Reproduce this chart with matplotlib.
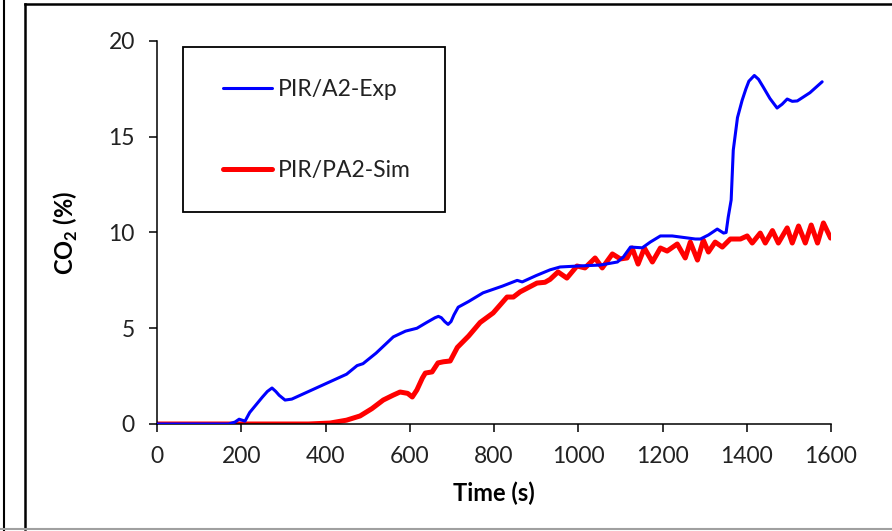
import matplotlib
matplotlib.use('Agg')
import matplotlib.pyplot as plt
from matplotlib.lines import Line2D
from matplotlib.patches import Rectangle

plt.rcParams['font.family'] = ['Lato', 'DejaVu Sans']
plt.rcParams['mathtext.fontset'] = 'custom'
plt.rcParams['mathtext.rm'] = 'Lato'
plt.rcParams['mathtext.bf'] = 'Lato:bold'

# Experimental curve PIR/A2-Exp
t_exp = [0, 170, 185, 195, 209, 220, 235, 250, 262, 273, 282, 290, 304, 320,
         350, 400, 450, 475, 489, 520, 561, 590, 617, 640, 660, 668, 675,
         683, 691, 698, 705, 715, 740, 774, 820, 855, 867, 900, 933, 957,
         1000, 1052, 1093, 1107, 1124, 1152, 1171, 1195, 1223, 1278, 1290,
         1309, 1330, 1345, 1351, 1356, 1363, 1368, 1378, 1389, 1398, 1405,
         1418, 1428, 1439, 1455, 1472, 1484, 1496, 1508, 1520, 1550, 1579]
co2_exp = [0, 0, 0.1, 0.25, 0.15, 0.6, 1.0, 1.4, 1.7, 1.88, 1.7, 1.5, 1.25,
           1.3, 1.6, 2.1, 2.6, 3.05, 3.15, 3.7, 4.55, 4.85, 5.0, 5.3, 5.55,
           5.62, 5.55, 5.35, 5.2, 5.35, 5.7, 6.1, 6.4, 6.85, 7.2, 7.5, 7.42,
           7.75, 8.05, 8.2, 8.25, 8.3, 8.46, 8.72, 9.24, 9.2, 9.5, 9.82, 9.82,
           9.66, 9.66, 9.87, 10.18, 9.97, 10.0, 10.8, 11.7, 14.3, 16.0, 16.9,
           17.5, 17.9, 18.2, 18.0, 17.6, 17.0, 16.5, 16.7, 16.97, 16.85, 16.87,
           17.3, 17.87]

# Simulated curve PIR/PA2-Sim
t_sim = [0, 360, 411, 450, 482, 510, 537, 560, 577, 595, 606, 617, 630, 637,
         653, 667, 680, 696, 713, 740, 767, 798, 831, 846, 862, 902, 921, 933,
         952, 973, 997, 1016, 1040, 1057, 1081, 1100, 1116, 1128, 1142, 1157,
         1176, 1195, 1211, 1235, 1254, 1266, 1283, 1297, 1309, 1325, 1342,
         1361, 1385, 1401, 1413, 1432, 1444, 1461, 1475, 1496, 1508, 1523,
         1539, 1553, 1568, 1582, 1599]
co2_sim = [0, 0, 0.05, 0.2, 0.42, 0.8, 1.25, 1.5, 1.67, 1.6, 1.41, 1.78, 2.4,
           2.66, 2.72, 3.19, 3.25, 3.29, 4.0, 4.6, 5.3, 5.8, 6.63, 6.63, 6.9,
           7.36, 7.4, 7.55, 7.94, 7.62, 8.25, 8.15, 8.67, 8.15, 8.88, 8.62,
           8.67, 9.19, 8.35, 9.19, 8.46, 9.19, 9.03, 9.4, 8.67, 9.5, 8.56, 9.6,
           8.98, 9.5, 9.24, 9.66, 9.66, 9.82, 9.45, 9.97, 9.45, 10.1, 9.45,
           10.24, 9.45, 10.34, 9.45, 10.39, 9.45, 10.5, 9.71]

fig = plt.figure(figsize=(8.92, 5.31), dpi=100)
ax = fig.add_axes([157/892, 1-424/531, 674/892, 383/531])

ax.plot(t_exp, co2_exp, color='#0000ff', lw=2.2, label='PIR/A2-Exp',
        solid_joinstyle='round', solid_capstyle='round', zorder=3)
ax.plot(t_sim, co2_sim, color='#ff0000', lw=3.6, label='PIR/PA2-Sim',
        solid_joinstyle='round', solid_capstyle='round', zorder=2)

ax.set_xlim(0, 1600)
ax.set_ylim(0, 20)
ax.set_xticks(range(0, 1601, 200))
ax.set_yticks([0, 5, 10, 15, 20])

for s in ['top', 'right']:
    ax.spines[s].set_visible(False)
for s in ['left', 'bottom']:
    ax.spines[s].set_linewidth(1.1)
    ax.spines[s].set_color('black')
ax.tick_params(axis='both', direction='out', length=6, width=1.1,
               labelsize=16.5, labelcolor='#222222')
ax.tick_params(axis='x', pad=10)
ax.tick_params(axis='y', pad=10)

ax.set_xlabel('Time (s)', fontsize=17, fontweight='bold', labelpad=10)
ax.set_ylabel(r'CO$_\mathbf{2}$ (%)', fontsize=17, fontweight='bold',
              labelpad=20)

# legend box
box = Rectangle(((183-157)/674, (424-212)/383), (445-183)/674, (212-47)/383,
                transform=ax.transAxes, fill=False, edgecolor='black',
                lw=1.3, zorder=4, clip_on=False)
ax.add_patch(box)
leg = ax.legend(loc='upper left', bbox_to_anchor=((223-157)/674, (424-79)/383),
                frameon=False, fontsize=16.5, handlelength=2.15,
                handletextpad=0.26, labelspacing=2.6, borderpad=0,
                borderaxespad=0)
for txt in leg.get_texts():
    txt.set_color('#222222')

# outer frame remnants
fig.add_artist(Line2D([4/892, 4/892], [0, 1], color='black', lw=1.5))
fig.add_artist(Line2D([25/892, 25/892], [2/531, 1-4/531], color='black', lw=1.8))
fig.add_artist(Line2D([25/892, 1], [1-4/531, 1-4/531], color='black', lw=1.8))
fig.add_artist(Line2D([0, 1], [2/531, 2/531], color='#a0a0a0', lw=1.5))

fig.savefig('out.png', dpi=100)
